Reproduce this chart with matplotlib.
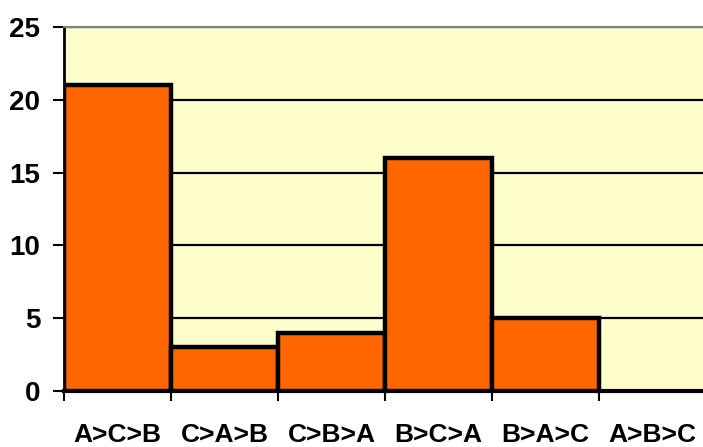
import matplotlib.pyplot as plt
import numpy as np

plt.rcParams['font.family'] = ['Liberation Sans', 'DejaVu Sans']

categories = ['A>C>B', 'C>A>B', 'C>B>A', 'B>C>A', 'B>A>C', 'A>B>C']
counts = [21, 3, 4, 16, 5, 0]

fig = plt.figure(figsize=(7.03, 4.47), dpi=100)
ax = fig.add_axes([64 / 703, 56 / 447, 642 / 703, 364 / 447])
ax.set_facecolor('#FFFFCC')

x = np.arange(len(categories)) + 0.5
ax.set_xlim(0, len(categories))
ax.set_ylim(0, 25)

ax.set_yticks(np.arange(0, 26, 5))
ax.yaxis.grid(True, color='black', linewidth=1.6)
ax.set_axisbelow(True)

bars = ax.bar(x, counts, width=1.0, color='#FF6600', edgecolor='black', linewidth=3.2, zorder=3)
for b, c in zip(bars, counts):
    if c == 0:
        b.set_visible(False)

# category boundaries get tick marks, labels sit at the centres
ax.set_xticks(np.arange(0, len(categories) + 1))
ax.set_xticklabels([])
ax.set_xticks(x, minor=True)
ax.set_xticklabels(categories, minor=True)
ax.tick_params(axis='x', which='major', length=7, width=1.5, direction='out')
ax.tick_params(axis='x', which='minor', length=0, pad=23, labelsize=19)
ax.tick_params(axis='y', length=8, width=1.5, pad=9, labelsize=20)
for lbl in ax.get_xticklabels(minor=True) + ax.get_yticklabels():
    lbl.set_fontweight('bold')

ax.spines['left'].set_linewidth(2)
ax.spines['bottom'].set_linewidth(3)
ax.spines['top'].set_color('#808080')
ax.spines['top'].set_linewidth(1.5)
ax.spines['right'].set_visible(False)

plt.savefig('out.png', dpi=100)
